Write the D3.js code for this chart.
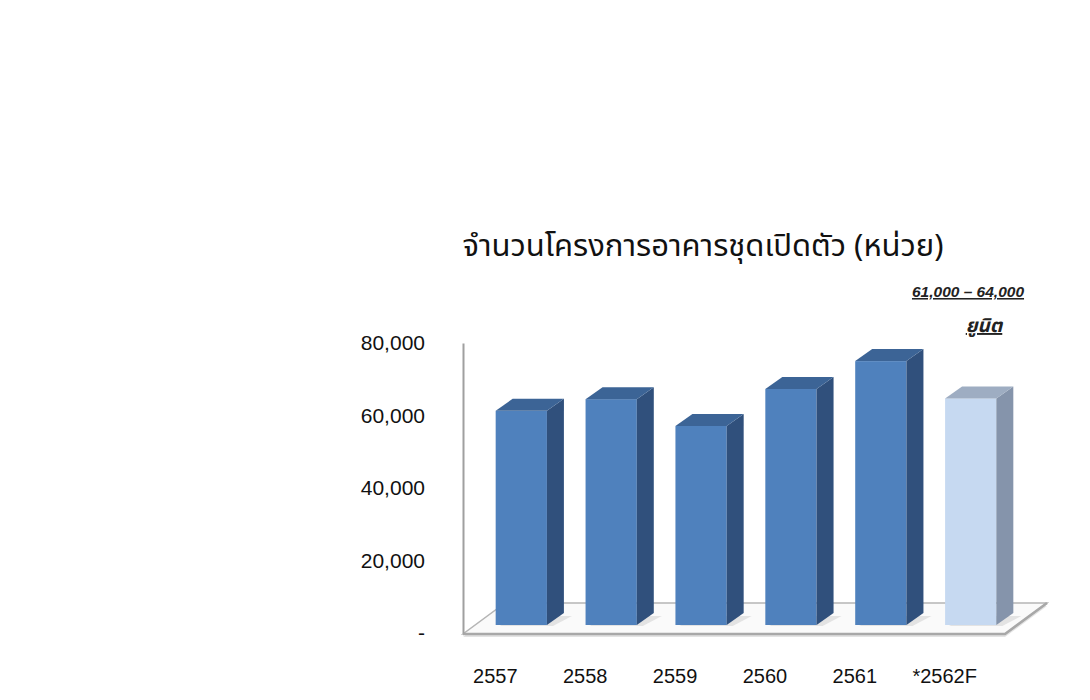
<!DOCTYPE html>
<html>
<head>
<meta charset="utf-8">
<script src="https://cdn.jsdelivr.net/npm/d3@7"></script>
<style>
  body { margin: 0; background: #fff; }
  text { font-family: "Liberation Sans", Arial, sans-serif; }
</style>
</head>
<body>
<svg id="chart"></svg>
<script>
// data
const years = ["2557", "2558", "2559", "2560", "2561", "*2562F"];
const units = [59100, 62300, 54900, 65100, 72800, 62500];
const forecast = [false, false, false, false, false, true];
const yTicks = [0, 20000, 40000, 60000, 80000];
const title = "จำนวนโครงการอาคารชุดเปิดตัว (หน่วย)";
const forecastNote = ["61,000 – 64,000", "ยูนิต"];

const width = 1090, height = 700;
const svg = d3.select("#chart").attr("width", width).attr("height", height);

// plot frame (front plane of the 3D floor)
const x0 = 463, x1 = 1005;
const yBase = 633, yTop = 343;
const depth = { dx: 42, dy: -31 };     // whole floor depth
const front = { dx: 12, dy: -8 };      // bar front face inside the floor
const side = { dx: 17, dy: -12 };      // bar depth

const xScale = d3.scaleBand()
    .domain(years)
    .range([x0, x1])
    .paddingInner(0.43)
    .paddingOuter(0.23);

const yScale = d3.scaleLinear().domain([0, 80000]).range([yBase, yTop]);

const thaiFont = "Tahoma, 'Noto Sans Thai', 'Liberation Sans', sans-serif";

// title
svg.append("text")
    .attr("x", 703).attr("y", 256)
    .attr("text-anchor", "middle")
    .style("font-size", "31px")
    .style("font-family", thaiFont)
    .attr("fill", "#111")
    .text(title);

// forecast note
svg.append("text")
    .attr("x", 968).attr("y", 297)
    .attr("text-anchor", "middle")
    .style("font-size", "15.5px").style("font-weight", "bold").style("font-style", "italic")
    .style("text-decoration", "underline")
    .attr("fill", "#222")
    .text(forecastNote[0]);
svg.append("text")
    .attr("x", 984).attr("y", 332)
    .attr("text-anchor", "middle")
    .style("font-size", "19px").style("font-weight", "bold").style("font-style", "italic")
    .style("text-decoration", "underline")
    .style("font-family", thaiFont)
    .attr("fill", "#222")
    .text(forecastNote[1]);

// floor
const floorPts = [
    [x0, yBase + 1], [x1, yBase + 1],
    [x1 + depth.dx, yBase + 1 + depth.dy], [x0 + depth.dx, yBase + 1 + depth.dy]
];
svg.append("polygon")
    .attr("points", floorPts.map(p => [p[0], p[1] + 3].join(",")).join(" "))
    .attr("fill", "#e3e3e3");
svg.append("polygon")
    .attr("points", floorPts.map(p => p.join(",")).join(" "))
    .attr("fill", "#fafafa")
    .attr("stroke", "#b5b5b5")
    .attr("stroke-width", 1.5);
svg.append("polyline")
    .attr("points", [floorPts[0], floorPts[1], floorPts[2]].map(p => p.join(",")).join(" "))
    .attr("fill", "none")
    .attr("stroke", "#a8a8a8")
    .attr("stroke-width", 2.5);

// y axis
const yAxis = svg.append("g")
    .attr("transform", `translate(${x0},0)`)
    .call(d3.axisLeft(yScale)
        .tickValues(yTicks)
        .tickSize(0)
        .tickPadding(38)
        .tickFormat(d => d === 0 ? "-" : d3.format(",")(d)));
yAxis.select(".domain").attr("stroke", "#a0a0a0").attr("stroke-width", 2);
yAxis.selectAll("text")
    .style("font-size", "21px")
    .style("font-family", "'Liberation Sans', Arial, sans-serif")
    .attr("fill", "#111");

// bars
const bw = xScale.bandwidth();
const bars = svg.append("g");
years.forEach((yr, i) => {
    const xl = xScale(yr) + front.dx;
    const xr = xl + bw;
    const yb = yScale(0) + front.dy;
    const yt = yScale(units[i]) + front.dy;
    const c = forecast[i]
        ? { front: "#c6d9f1", side: "#8594ab", top: "#9eadc2" }
        : { front: "#4f81bd", side: "#30507c", top: "#3c6496" };
    const g = bars.append("g");
    // soft shadow on floor
    g.append("polygon")
        .attr("points", [[xl + 4, yb + 1], [xr + 6, yb + 1], [xr + side.dx + 8, yb + side.dy + 3], [xl + side.dx + 6, yb + side.dy + 3]]
            .map(p => p.join(",")).join(" "))
        .attr("fill", "#d8d8d8").attr("opacity", 0.7);
    g.append("rect")
        .attr("x", xl).attr("y", yt)
        .attr("width", bw).attr("height", yb - yt)
        .attr("fill", c.front);
    g.append("polygon")
        .attr("points", [[xr, yt], [xr + side.dx, yt + side.dy], [xr + side.dx, yb + side.dy], [xr, yb]]
            .map(p => p.join(",")).join(" "))
        .attr("fill", c.side);
    g.append("polygon")
        .attr("points", [[xl, yt], [xl + side.dx, yt + side.dy], [xr + side.dx, yt + side.dy], [xr, yt]]
            .map(p => p.join(",")).join(" "))
        .attr("fill", c.top);
});

// category labels
svg.append("g").selectAll("text")
    .data(years)
    .join("text")
    .attr("x", d => xScale(d) + bw / 2 - 14)
    .attr("y", 683)
    .attr("text-anchor", "middle")
    .style("font-size", "20px")
    .attr("fill", "#111")
    .text(d => d);
</script>
</body>
</html>
